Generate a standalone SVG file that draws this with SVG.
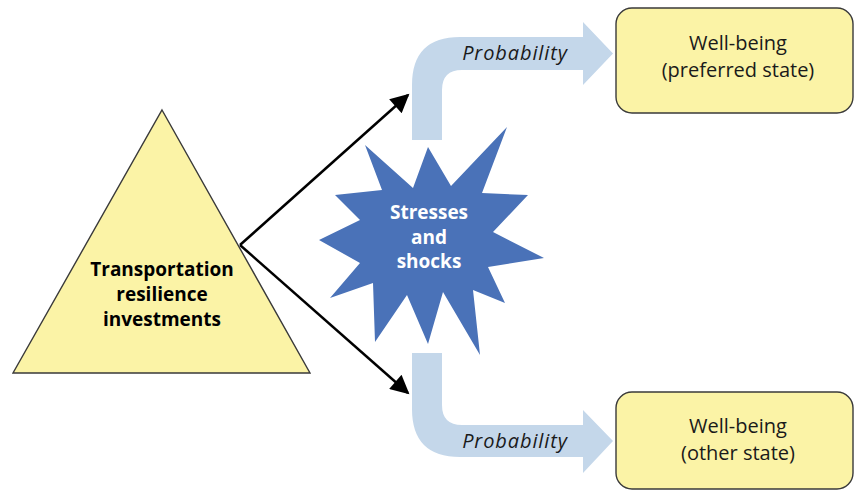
<svg xmlns="http://www.w3.org/2000/svg" width="855" height="491" viewBox="0 0 855 491">
  <style>
    .bg { fill: #ffffff; }
    .yellow { fill: #fbf3a6; stroke: #3a3a3a; stroke-width: 1.4; }
    .star { fill: #4a72b8; }
    .band { fill: #c4d7ea; }
    .link { stroke: #000000; stroke-width: 2.5; fill: none; }
    .bold { font-family: "Open Sans", "Noto Sans", "Liberation Sans", sans-serif; font-weight: bold; font-size: 19px; text-anchor: middle; }
    .plain { font-family: "Open Sans", "Noto Sans", "Liberation Sans", sans-serif; font-size: 20px; fill: #1a1a1a; text-anchor: middle; }
    .prob { font-family: "Open Sans", "Noto Sans", "Liberation Sans", sans-serif; font-style: italic; font-size: 20px; letter-spacing: 0.9px; fill: #1a1a1a; text-anchor: middle; }
  </style>
  <defs>
    <marker id="head" viewBox="0 0 10 10" refX="9" refY="5" markerWidth="9" markerHeight="7.5" markerUnits="strokeWidth" orient="auto">
      <path d="M0,0 L10,5 L0,10 Z" fill="#000000"/>
    </marker>
  </defs>

  <rect class="bg" x="0" y="0" width="855" height="491"/>

  <!-- bent probability bands -->
  <g id="band-top">
    <path class="band" d="M412,140 L412,85 Q412,37 460,37 L583,37 L583,22 L613,53.5 L583,85 L583,70 L462,70 Q442,70 442,90 L442,140 Z"/>
    <text class="prob" x="515" y="60">Probability</text>
  </g>
  <g id="band-bottom">
    <path class="band" d="M412,353 L412,409 Q412,457 460,457 L583,457 L583,473 L613,441 L583,410 L583,425 L462,425 Q442,425 442,405 L442,353 Z"/>
    <text class="prob" x="515" y="448">Probability</text>
  </g>

  <!-- connectors -->
  <g id="connectors">
    <line class="link" x1="240" y1="245" x2="408" y2="95" marker-end="url(#head)"/>
    <line class="link" x1="240" y1="245" x2="408" y2="393" marker-end="url(#head)"/>
  </g>

  <g id="investments">
    <polygon class="yellow" points="162,110 310,373 13,373"/>
    <text class="bold" x="162" y="276">Transportation</text>
    <text class="bold" x="162" y="301">resilience</text>
    <text class="bold" x="162" y="326">investments</text>
  </g>

  <g id="stresses">
    <polygon class="star" points="365,145 413,188 428,147 451,186 507,127 482,193 528,195 493,232 544,258 488,267 505,303 473,290 480,355 443,292 428,344 407,295 375,342 373,283 330,298 360,263 319,240 360,220 335,195 382,190"/>
    <text class="bold" x="429" y="219" fill="#ffffff">Stresses</text>
    <text class="bold" x="429" y="244" fill="#ffffff">and</text>
    <text class="bold" x="429" y="268" fill="#ffffff">shocks</text>
  </g>

  <g id="preferred">
    <rect class="yellow" x="616" y="8" width="237" height="105" rx="16" ry="16"/>
    <text class="plain" x="738" y="50">Well-being</text>
    <text class="plain" x="738" y="77">(preferred state)</text>
  </g>

  <g id="other">
    <rect class="yellow" x="616" y="392" width="237" height="97" rx="16" ry="16"/>
    <text class="plain" x="738" y="433">Well-being</text>
    <text class="plain" x="738" y="460">(other state)</text>
  </g>
</svg>
